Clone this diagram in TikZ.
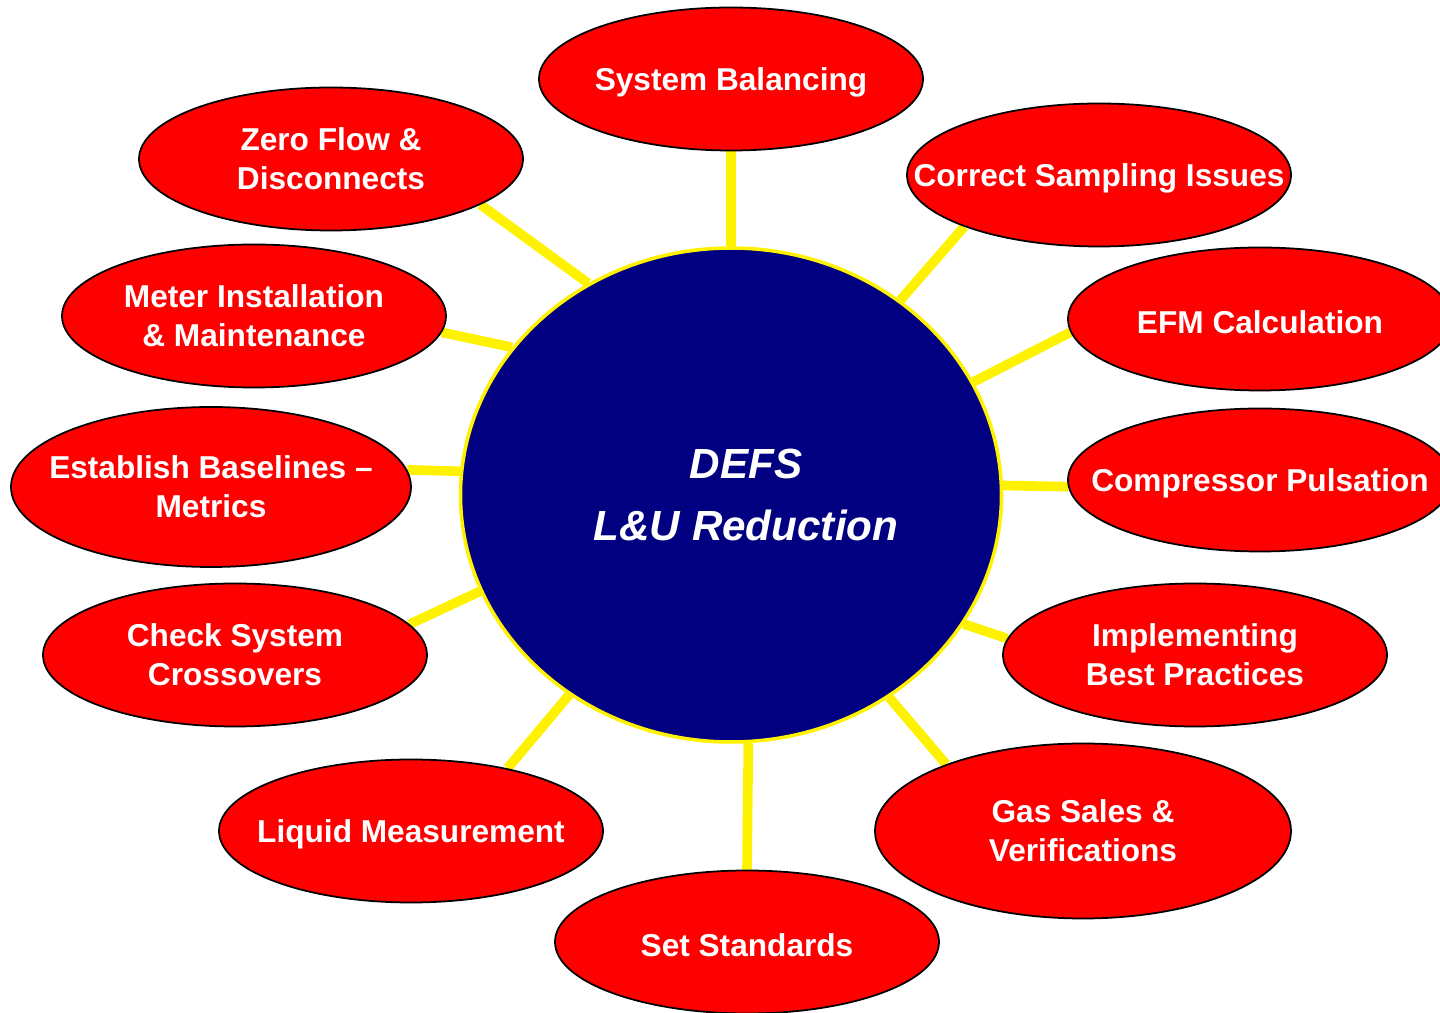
\documentclass[tikz,border=0pt]{standalone}
\usepackage{fontspec}
\setmainfont{Liberation Sans}
\usetikzlibrary{shapes.geometric,backgrounds}
\definecolor{defsblue}{RGB}{0,0,128}

\begin{document}
\begin{tikzpicture}[topic/.style={ellipse,draw=black,line width=1pt,fill=red,text=white,align=center,
                        font=\fontsize{18}{22}\selectfont\bfseries,inner sep=-4cm,
                        execute at begin node={\rule{0pt}{0.58cm}},
                        minimum width=7.68cm,minimum height=2.86cm},
                    hub/.style={ellipse,draw=yellow,line width=2pt,fill=defsblue,text=white,align=center,
                        font=\fontsize{24}{35}\selectfont\bfseries\itshape,inner sep=-4cm,
                        minimum width=10.82cm,minimum height=9.88cm},
                    link/.style={yellow,line width=5.5pt}]
    \useasboundingbox (0, 0) rectangle (28.8, 20.26);

    % Center
    \node[hub] (hub) at (14.62, 10.36) {\hspace*{0.6cm}DEFS\\\hspace*{0.6cm}L\&U Reduction};

    % Topics
    \node[topic] (balance) at (14.62, 18.68) {System Balancing};
    \node[topic] (zeroflow) at (6.62, 17.08) {Zero Flow \&\\Disconnects};
    \node[topic] (sampling) at (21.98, 16.76) {Correct Sampling Issues};
    \node[topic] (meter) at (5.08, 13.94) {Meter Installation\\\& Maintenance};
    \node[topic] (efm) at (25.2, 13.88) {EFM Calculation};
    \node[topic,minimum width=8cm,minimum height=3.2cm] (baseline) at (4.22, 10.52) {Establish Baselines --\\Metrics};
    \node[topic] (pulsation) at (25.2, 10.66) {Compressor Pulsation};
    \node[topic] (crossover) at (4.7, 7.16) {Check System\\Crossovers};
    \node[topic] (practice) at (23.9, 7.16) {Implementing\\Best Practices};
    \node[topic] (liquid) at (8.22, 3.64) {Liquid Measurement};
    \node[topic,minimum width=8.32cm,minimum height=3.5cm] (gassales) at (21.66, 3.64) {Gas Sales \&\\Verifications};
    \node[topic] (standard) at (14.94, 1.42) {Set Standards};

    % Links
    \begin{scope}[on background layer]
        \draw[link] (hub.90) -- (balance.270);
        \draw[link] (hub.124) -- (zeroflow.343);
        \draw[link] (hub.49) -- (sampling.201);
        \draw[link] (hub.146) -- (meter.355);
        \draw[link] (hub.25) -- (efm.184);
        \draw[link] (hub.175) -- (baseline.5);
        \draw[link] (hub.2) -- (pulsation.182);
        \draw[link] (hub.201) -- (crossover.10);
        \draw[link] (hub.331) -- (practice.175);
        \draw[link] (hub.231) -- (liquid.33);
        \draw[link] (hub.308) -- (gassales.154);
        \draw[link] (hub.274) -- (standard.90);
    \end{scope}
\end{tikzpicture}
\end{document}
